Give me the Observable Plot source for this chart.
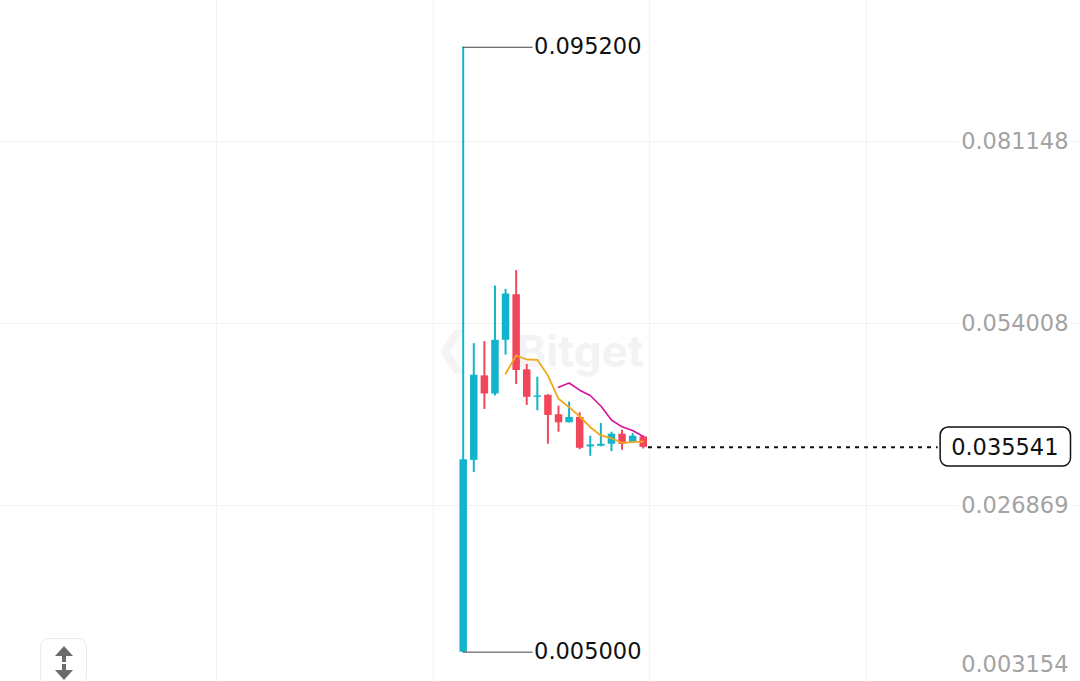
<!DOCTYPE html>
<html><head><meta charset="utf-8">
<script src="https://cdn.jsdelivr.net/npm/d3@7"></script>
<script src="https://cdn.jsdelivr.net/npm/@observablehq/plot@0.6"></script>
<style>
html,body{margin:0;padding:0;background:#fff;}
#chart{position:relative;width:1080px;height:681px;overflow:hidden;}
#btn{position:absolute;left:40px;top:638px;width:47px;height:48px;border:1.5px solid #ececec;border-radius:9px;background:#fff;box-sizing:border-box;}
</style></head><body>
<div id="chart"><div id="btn"><svg width="47" height="48" viewBox="0 0 47 48">
<polygon points="23,7 14,17 32,17" fill="#6b6b6b"/>
<rect x="21" y="17" width="4" height="6" fill="#6b6b6b"/>
<rect x="21" y="25" width="4" height="6" fill="#6b6b6b"/>
<polygon points="14,31 32,31 23,41" fill="#6b6b6b"/>
</svg></div></div>
<script>
// candle data (index order, oldest first)
const opens  = [0.0050, 0.0336, 0.0462, 0.0435, 0.0515, 0.0583, 0.0471, 0.0430, 0.0433, 0.0404, 0.0392, 0.0400, 0.0356, 0.0357, 0.0360, 0.0375, 0.0363, 0.0371];
const highs  = [0.0952, 0.0510, 0.0513, 0.0596, 0.0591, 0.0619, 0.0479, 0.0460, 0.0434, 0.0417, 0.0423, 0.0407, 0.0372, 0.0391, 0.0378, 0.0381, 0.0376, 0.0372];
const lows   = [0.0050, 0.0318, 0.0412, 0.0432, 0.0493, 0.0449, 0.0418, 0.0410, 0.0360, 0.0378, 0.0392, 0.0352, 0.0342, 0.0356, 0.0349, 0.0351, 0.0361, 0.0353];
const closes = [0.0337, 0.0463, 0.0435, 0.0515, 0.0584, 0.0470, 0.0430, 0.0432, 0.0403, 0.0392, 0.0400, 0.0354, 0.0359, 0.0360, 0.0375, 0.0360, 0.0372, 0.035541];
const ma5  = [null, null, null, null, 0.04651, 0.04924, 0.04864, 0.04859, 0.04625, 0.04278, 0.04153, 0.04014, 0.03854, 0.03731, 0.03690, 0.03622, 0.03631, 0.03641];
const ma10 = [null, null, null, null, null, null, null, null, null, 0.04451, 0.04514, 0.04406, 0.04327, 0.04171, 0.03962, 0.03860, 0.03805, 0.03716];
// axis ticks
const yTicks = [0.081148, 0.054008, 0.026869, 0.003154];
const yTickLabels = ["0.081148", "0.054008", "0.026869", "0.003154"];
const yGrid = [0.081148, 0.054008, 0.026869];
const xGrid = [-23.30, -2.85, 17.59, 38.08];
const highLabel = "0.095200";
const lowLabel = "0.005000";
const lastLabel = "0.035541";

const UP = "#13B4CB", DOWN = "#F2475B", MA5C = "#F2A81D", MA10C = "#D6119E";
const FONT = "'DejaVu Sans', sans-serif";
const FS = 22.5;

const data = opens.map((o, i) => ({i, o, c: closes[i], h: highs[i], l: lows[i]}));
const up = data.filter(d => d.c >= d.o);
const down = data.filter(d => d.c < d.o);
const m5 = ma5.map((v, i) => ({i, v})).filter(d => d.v != null);
const m10 = ma10.map((v, i) => ({i, v})).filter(d => d.v != null);
const n = data.length;
const hi = d3.max(highs), hiIdx = highs.indexOf(hi);
const lo = d3.min(lows), loIdx = lows.indexOf(lo);
const last = closes[n - 1];

const chart = Plot.plot({
  width: 1080, height: 681, margin: 0,
  x: {type: "linear", domain: [-43.69, 58.29], axis: null},
  y: {type: "linear", domain: [0.000623, 0.102174], axis: null},
  style: {fontFamily: FONT, background: "#fff", overflow: "visible"},
  marks: [
    Plot.ruleY(yGrid, {stroke: "#f2f2f2", strokeWidth: 1}),
    Plot.ruleX(xGrid, {stroke: "#f2f2f2", strokeWidth: 1}),
    Plot.text(["Bitget"], {frameAnchor: "middle", dx: 40, dy: 12, fontSize: 44, fontWeight: 700, fill: "#f3f3f3", fontFamily: "Inter, sans-serif"}),
    Plot.text(["❮"], {frameAnchor: "middle", dx: -88, dy: 8, fontSize: 44, fontWeight: 700, fill: "#f4f4f4"}),
    Plot.ruleX(up, {x: "i", y1: "l", y2: "h", stroke: UP, strokeWidth: 2}),
    Plot.ruleX(down, {x: "i", y1: "l", y2: "h", stroke: DOWN, strokeWidth: 2}),
    Plot.ruleX(up, {x: "i", y1: "o", y2: "c", stroke: UP, strokeWidth: 7.5}),
    Plot.ruleX(down, {x: "i", y1: "o", y2: "c", stroke: DOWN, strokeWidth: 7.5}),
    Plot.line(m5, {x: "i", y: "v", stroke: MA5C, strokeWidth: 1.8}),
    Plot.line(m10, {x: "i", y: "v", stroke: MA10C, strokeWidth: 1.6}),
    Plot.ruleY([hi], {x1: hiIdx, x2: hiIdx + 6.6, stroke: "#444", strokeWidth: 1}),
    Plot.text([hi], {x: hiIdx + 6.6, y: d => d, text: () => highLabel, textAnchor: "start", dx: 1, fontSize: FS, fill: "#111"}),
    Plot.ruleY([lo], {x1: loIdx, x2: loIdx + 6.6, stroke: "#444", strokeWidth: 1}),
    Plot.text([lo], {x: loIdx + 6.6, y: d => d, text: () => lowLabel, textAnchor: "start", dx: 1, fontSize: FS, fill: "#111"}),
    Plot.ruleY([last], {x1: n - 1 + 0.5, x2: 44.85, stroke: "#111", strokeWidth: 2, strokeDasharray: "4,5"}),
    Plot.text(yTicks, {y: d => d, text: (d, i) => yTickLabels[i], frameAnchor: "right", dx: -12, textAnchor: "end", fontSize: FS, fill: "#a3a3a3", stroke: "#fff", strokeWidth: 8}),
    Plot.text([last], {y: d => d, text: () => lastLabel, frameAnchor: "right", dx: -22, textAnchor: "end", fontSize: FS, fill: "#111"})
  ]
});
const host = document.getElementById("chart");
host.insertBefore(chart, host.firstChild);

// rounded box around the last-price label
const svgRect = chart.getBoundingClientRect();
d3.select(chart).selectAll("text").each(function() {
  if (this.textContent === lastLabel) {
    const b = this.getBoundingClientRect();
    let g = this;
    while (g.parentNode !== chart) g = g.parentNode;
    const r = document.createElementNS("http://www.w3.org/2000/svg", "rect");
    const x = b.left - svgRect.left - 11, y = b.top - svgRect.top;
    d3.select(r).attr("x", x).attr("y", (b.top + b.bottom) / 2 - svgRect.top - 19.5)
      .attr("width", b.width + 23).attr("height", 39)
      .attr("rx", 8).attr("fill", "#fff").attr("stroke", "#111").attr("stroke-width", 1.5);
    chart.insertBefore(r, g);
  }
});
</script>
</body></html>
